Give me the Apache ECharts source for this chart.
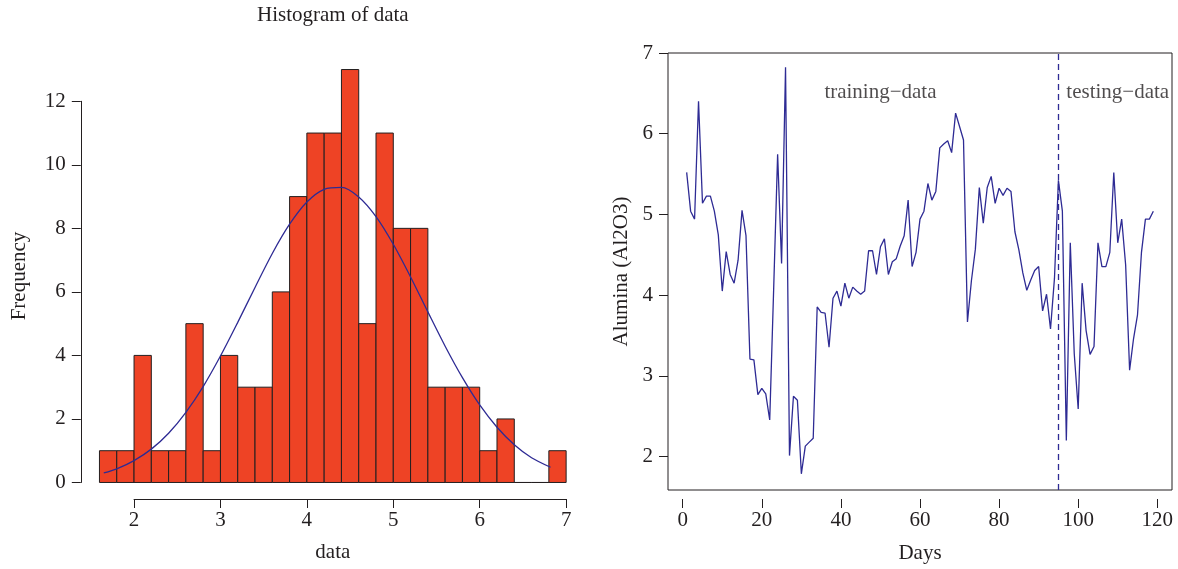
<!DOCTYPE html>
<html><head><meta charset="utf-8">
<script src="https://cdn.jsdelivr.net/npm/echarts@6/dist/echarts.min.js"></script>
<style>html,body{margin:0;padding:0;background:#fff}#c{width:1178px;height:569px}</style>
</head><body><div id="c"></div>
<script>
// ---------- Histogram data ----------
const binEdges = [1.6,1.8,2.0,2.2,2.4,2.6,2.8,3.0,3.2,3.4,3.6,3.8,4.0,4.2,4.4,4.6,4.8,5.0,5.2,5.4,5.6,5.8,6.0,6.2,6.4,6.6,6.8,7.0];
const binCounts = [1,1,4,1,1,5,1,4,3,3,6,9,11,11,13,5,11,8,8,3,3,3,1,2,0,0,1];
// fitted density curve
const curveX = [1.65,1.8,2.0,2.2,2.4,2.6,2.8,3.0,3.2,3.4,3.6,3.8,4.0,4.2,4.4,4.6,4.8,5.0,5.2,5.4,5.6,5.8,6.0,6.2,6.4,6.6,6.82];
const curveY = [0.30,0.43,0.69,1.05,1.55,2.21,3.02,3.98,5.04,6.14,7.21,8.13,8.83,9.23,9.29,8.99,8.37,7.50,6.47,5.37,4.29,3.30,2.44,1.74,1.19,0.78,0.48];
const histXTicks = [2,3,4,5,6,7];
const histYTicks = [0,2,4,6,8,10,12];

// ---------- Time series data ----------
const alumina = [5.49,5.00,4.90,6.39,5.10,5.19,5.19,5.00,4.70,3.99,
  4.49,4.20,4.09,4.38,5.01,4.69,3.13,3.12,2.68,2.76,
  2.69,2.36,4.02,5.72,4.34,6.82,1.91,2.66,2.61,1.68,
  2.03,2.08,2.13,3.79,3.72,3.71,3.28,3.90,3.99,3.80,
  4.09,3.90,4.04,3.99,3.95,3.99,4.50,4.50,4.20,4.55,
  4.65,4.20,4.36,4.40,4.56,4.69,5.14,4.30,4.48,4.90,
  5.00,5.35,5.14,5.25,5.80,5.85,5.89,5.74,6.24,6.07,
  5.90,3.60,4.12,4.52,5.30,4.85,5.30,5.44,5.10,5.29,
  5.20,5.29,5.25,4.74,4.51,4.22,4.00,4.13,4.25,4.30,
  3.74,3.95,3.51,4.15,5.39,5.00,2.10,4.60,3.20,2.50,
  4.09,3.49,3.19,3.29,4.60,4.30,4.30,4.48,5.49,4.60,
  4.90,4.32,2.99,3.39,3.69,4.48,4.90,4.90,5.00];
const splitDay = 95;
const annotations = [
  {text: 'training\u2212data', day: 50, value: 6.5},
  {text: 'testing\u2212data', day: 110, value: 6.5}
];
const dayTicks = [0,20,40,60,80,100,120];
const aluminaTicks = [2,3,4,5,6,7];

// ---------- Layout ----------
const FONT = '"Liberation Serif", "Times New Roman", serif';
const INK = '#231F20';
const BAR = '#EE4325';
const LINE = '#2E2B94';
const FS = 21;

// plot regions (R-style, data limits expanded by 4%)
const L = {left:80.8, top:53, width:504, height:446};
const LX = [1.384, 7.216], LY = [-0.52, 13.52];
const R = {left:668, top:53, width:504, height:446};
const RX = [-3.72, 123.72], RY = [1.475, 7.0];
function mapper(P, X, Y) {
  return {
    x: v => P.left + (v - X[0]) / (X[1] - X[0]) * P.width,
    y: v => P.top + (Y[1] - v) / (Y[1] - Y[0]) * P.height
  };
}
const lm = mapper(L, LX, LY), rm = mapper(R, RX, RY);
function tickGrid(m, xt, yt) {
  const x0 = m.x(xt[0]), x1 = m.x(xt[xt.length-1]);
  const y0 = m.y(yt[0]), y1 = m.y(yt[yt.length-1]);
  return {left: x0, top: y1, width: x1 - x0, height: y0 - y1, show: false};
}

const ts = {color: INK, fontFamily: FONT, fontSize: FS};
const hidden = {axisLine: {show: false}, axisTick: {show: false}, axisLabel: {show: false}, splitLine: {show: false}};

function tickXAxis(grid, ticks, interval, offset, showLine) {
  return {gridIndex: grid, type: 'value', min: ticks[0], max: ticks[ticks.length-1], interval: interval,
    offset: offset,
    axisLine: {show: showLine, onZero: false, lineStyle: {color: INK, width: 1}},
    axisTick: {show: true, length: 9, lineStyle: {color: INK, width: 1}},
    axisLabel: {...ts, margin: 11, showMinLabel: true, showMaxLabel: true},
    splitLine: {show: false}};
}
function tickYAxis(grid, ticks, interval, offset, showLine) {
  return {gridIndex: grid, type: 'value', min: ticks[0], max: ticks[ticks.length-1], interval: interval,
    offset: offset,
    axisLine: {show: showLine, onZero: false, lineStyle: {color: INK, width: 1}},
    axisTick: {show: true, length: 9, lineStyle: {color: INK, width: 1}},
    axisLabel: {...ts, margin: 15, showMinLabel: true, showMaxLabel: true},
    splitLine: {show: false}};
}

const chart = echarts.init(document.getElementById('c'), null, {renderer: 'canvas'});

const option = {
  animation: false,
  backgroundColor: '#fff',
  grid: [
    {left: L.left, top: L.top, width: L.width, height: L.height, show: false},
    {left: R.left, top: R.top, width: R.width, height: R.height, show: true,
     borderColor: INK, borderWidth: 1, backgroundColor: 'transparent'},
    tickGrid(lm, histXTicks, histYTicks),
    tickGrid(rm, dayTicks, aluminaTicks)
  ],
  xAxis: [
    {gridIndex: 0, type: 'value', min: LX[0], max: LX[1], ...hidden},
    {gridIndex: 1, type: 'value', min: RX[0], max: RX[1], ...hidden,
     axisLine: {show: false, onZero: false},
     name: 'Days', nameLocation: 'middle', nameGap: 53, nameTextStyle: ts},
    tickXAxis(2, histXTicks, 1, (L.top + L.height) - lm.y(histYTicks[0]), true),
    tickXAxis(3, dayTicks, 20, (R.top + R.height) - rm.y(aluminaTicks[0]), false)
  ],
  yAxis: [
    {gridIndex: 0, type: 'value', min: LY[0], max: LY[1], ...hidden},
    {gridIndex: 1, type: 'value', min: RY[0], max: RY[1], ...hidden,
     axisLine: {show: false, onZero: false},
     name: 'Alumina (Al2O3)', nameLocation: 'middle', nameGap: 36, nameRotate: 90, nameTextStyle: ts},
    tickYAxis(2, histYTicks, 2, lm.x(histXTicks[0]) - L.left, true),
    tickYAxis(3, aluminaTicks, 1, rm.x(dayTicks[0]) - R.left, false)
  ],
  graphic: [
    {type: 'text', style: {text: 'Histogram of data', fill: INK, font: `${FS}px ${FONT}`,
      x: L.left + L.width / 2, y: 15, textAlign: 'center', textVerticalAlign: 'middle'}},
    {type: 'text', style: {text: 'data', fill: INK, font: `${FS}px ${FONT}`,
      x: L.left + L.width / 2, y: 552, textAlign: 'center', textVerticalAlign: 'middle'}},
    {type: 'text', x: 19, y: L.top + L.height / 2, rotation: Math.PI / 2,
     style: {text: 'Frequency', fill: INK, font: `${FS}px ${FONT}`,
      x: 0, y: 0, textAlign: 'center', textVerticalAlign: 'middle'}}
  ],
  series: [
    {
      type: 'custom', xAxisIndex: 0, yAxisIndex: 0,
      data: binCounts.map((c, i) => [binEdges[i], binEdges[i+1], c]),
      renderItem: function (params, api) {
        const p0 = api.coord([api.value(0), 0]);
        const p1 = api.coord([api.value(1), api.value(2)]);
        return {type: 'rect',
          shape: {x: p0[0], y: p1[1], width: p1[0] - p0[0], height: p0[1] - p1[1]},
          style: {fill: BAR, stroke: INK, lineWidth: 1}};
      },
      z: 2
    },
    {
      type: 'line', xAxisIndex: 0, yAxisIndex: 0, smooth: 0.3, symbol: 'none',
      data: curveX.map((x, i) => [x, curveY[i]]),
      lineStyle: {color: LINE, width: 1.3}, z: 3
    },
    {
      type: 'line', xAxisIndex: 1, yAxisIndex: 1, symbol: 'none',
      data: alumina.map((v, i) => [i + 1, v]),
      lineStyle: {color: LINE, width: 1.3},
      markLine: {silent: true, symbol: 'none', label: {show: false},
        lineStyle: {color: LINE, type: [6, 4], width: 1.3},
        data: [{xAxis: splitDay}]},
      z: 3
    },
    {
      type: 'scatter', xAxisIndex: 1, yAxisIndex: 1, symbolSize: 1,
      itemStyle: {color: 'rgba(0,0,0,0)'},
      data: annotations.map(a => ({value: [a.day, a.value], name: a.text})),
      label: {show: true, position: 'inside', formatter: p => p.name, ...ts},
      z: 4
    }
  ]
};
chart.setOption(option);
</script>
</body></html>
